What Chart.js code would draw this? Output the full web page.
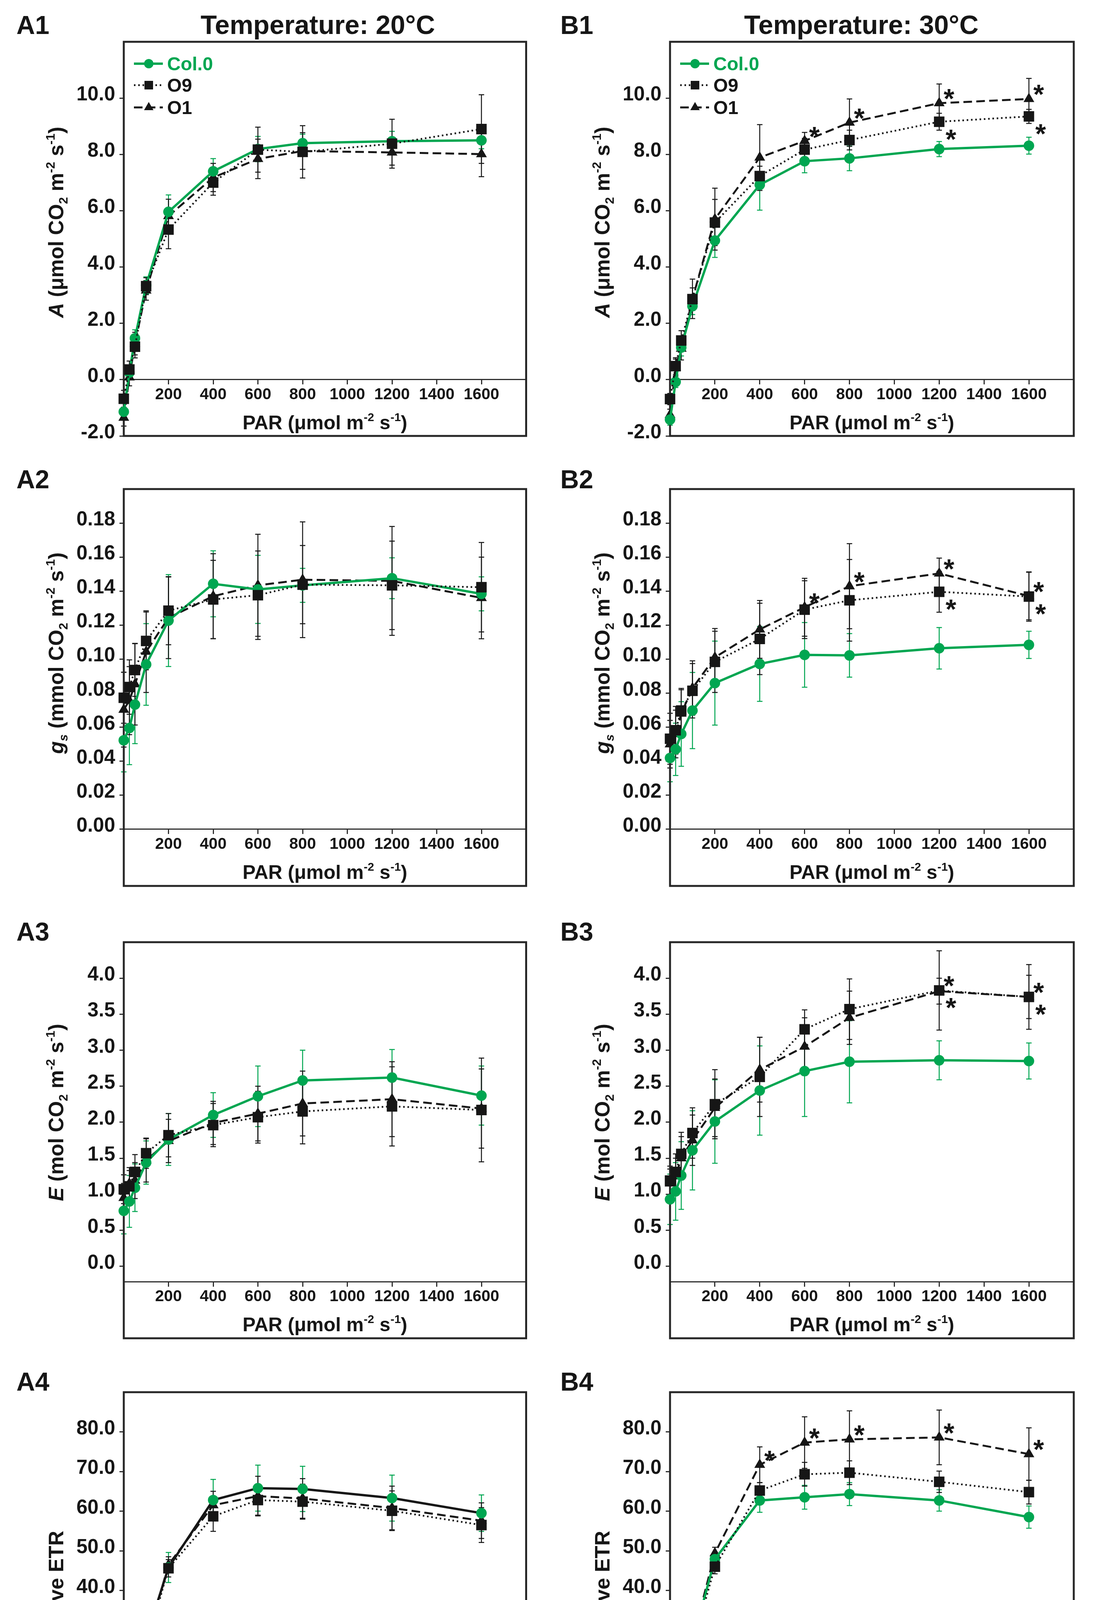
<!DOCTYPE html>
<html>
<head>
<meta charset="utf-8">
<title>Light response curves, 20 °C and 30 °C</title>
<script src="https://cdn.jsdelivr.net/npm/chart.js@4.4.1/dist/chart.umd.min.js"></script>
<style>
  html, body { margin: 0; padding: 0; background: #fff; }
  body { width: 2830px; height: 4680px; position: relative; overflow: hidden; }
  canvas { position: absolute; }
</style>
</head>
<body>
<script>
// --- data: PAR steps and tick values ---
const PAR = [0, 25, 50, 100, 200, 400, 600, 800, 1200, 1600];
const xTicks = [200, 400, 600, 800, 1000, 1200, 1400, 1600];
const seriesNames = ['Col.0', 'O9', 'O1'];

const ticksA   = [-2, 0, 2, 4, 6, 8, 10];
const ticksGs  = [0, 0.02, 0.04, 0.06, 0.08, 0.10, 0.12, 0.14, 0.16, 0.18];
const ticksE   = [0, 0.5, 1, 1.5, 2, 2.5, 3, 3.5, 4];
const ticksETR = [0, 10, 20, 30, 40, 50, 60, 70, 80];

// A (umol CO2 m-2 s-1)
const A1_col0 = [-1.14, 0.25, 1.47, 3.35, 5.96, 7.40, 8.19, 8.40, 8.47, 8.50];
const A1_col0_err = [0.3, 0.25, 0.3, 0.3, 0.6, 0.45, 0.45, 0.32, 0.35, 0.3];
const A1_o9 = [-0.68, 0.36, 1.17, 3.32, 5.33, 7.00, 8.17, 8.09, 8.38, 8.90];
const A1_o9_err = [0.3, 0.3, 0.4, 0.3, 0.68, 0.45, 0.8, 0.93, 0.87, 1.22];
const A1_o1 = [-1.35, 0.08, 1.28, 3.17, 5.81, 7.18, 7.84, 8.12, 8.07, 8.01];
const A1_o1_err = [0.3, 0.3, 0.4, 0.35, 0.6, 0.5, 0.7, 0.65, 0.45, 0.8];

const B1_col0 = [-1.42, -0.08, 1.14, 2.61, 4.94, 6.92, 7.76, 7.86, 8.19, 8.31];
const B1_col0_err = [0.2, 0.2, 0.3, 0.3, 0.6, 0.9, 0.41, 0.44, 0.27, 0.3];
const B1_o9 = [-0.69, 0.48, 1.39, 2.86, 5.58, 7.23, 8.17, 8.51, 9.16, 9.35];
const B1_o9_err = [0.2, 0.3, 0.35, 0.4, 0.82, 0.35, 0.4, 0.35, 0.3, 0.25];
const B1_o1 = [-1.25, 0.43, 1.10, 2.87, 5.70, 7.89, 8.48, 9.13, 9.82, 9.97];
const B1_o1_err = [0.2, 0.3, 0.4, 0.7, 1.1, 1.17, 0.3, 0.84, 0.68, 0.73];

// gs (mmol CO2 m-2 s-1)
const A2_col0 = [0.0523, 0.0595, 0.0733, 0.0969, 0.1227, 0.1443, 0.1410, 0.1434, 0.1476, 0.1384];
const A2_col0_err = [0.0186, 0.0215, 0.023, 0.024, 0.027, 0.0194, 0.02, 0.01, 0.012, 0.01];
const A2_o9 = [0.0773, 0.0836, 0.0936, 0.1107, 0.1285, 0.1351, 0.1376, 0.1438, 0.1434, 0.1423];
const A2_o9_err = [0.015, 0.016, 0.0155, 0.017, 0.02, 0.023, 0.026, 0.023, 0.026, 0.0263];
const A2_o1 = [0.0703, 0.0756, 0.0853, 0.1044, 0.1243, 0.137, 0.1434, 0.1467, 0.146, 0.136];
const A2_o1_err = [0.022, 0.02, 0.024, 0.024, 0.024, 0.025, 0.03, 0.034, 0.032, 0.024];

const B2_col0 = [0.0419, 0.047, 0.056, 0.0698, 0.0859, 0.0972, 0.1025, 0.1022, 0.1064, 0.1084];
const B2_col0_err = [0.014, 0.0154, 0.019, 0.0224, 0.0247, 0.022, 0.019, 0.0128, 0.0122, 0.008];
const B2_o9 = [0.0532, 0.0582, 0.0698, 0.0814, 0.0984, 0.1119, 0.1291, 0.1346, 0.1396, 0.1368];
const B2_o9_err = [0.015, 0.014, 0.013, 0.016, 0.018, 0.021, 0.017, 0.024, 0.012, 0.0145];
const B2_o1 = [0.050, 0.056, 0.068, 0.083, 0.101, 0.1175, 0.1305, 0.1429, 0.1504, 0.1371];
const B2_o1_err = [0.014, 0.014, 0.014, 0.016, 0.017, 0.017, 0.017, 0.025, 0.009, 0.014];

// E (mol CO2 m-2 s-1)
const A3_col0 = [0.77, 0.90, 1.09, 1.44, 1.76, 2.10, 2.36, 2.58, 2.62, 2.37];
const A3_col0_err = [0.32, 0.36, 0.33, 0.3, 0.36, 0.31, 0.42, 0.42, 0.39, 0.41];
const A3_o9 = [1.07, 1.11, 1.31, 1.57, 1.82, 1.96, 2.07, 2.15, 2.22, 2.17];
const A3_o9_err = [0.2, 0.22, 0.24, 0.21, 0.3, 0.3, 0.36, 0.45, 0.55, 0.72];
const A3_o1 = [0.95, 1.15, 1.19, 1.47, 1.74, 1.99, 2.12, 2.26, 2.32, 2.19];
const A3_o1_err = [0.2, 0.22, 0.25, 0.3, 0.3, 0.3, 0.38, 0.45, 0.52, 0.55];

const B3_col0 = [0.93, 1.04, 1.26, 1.61, 2.01, 2.44, 2.71, 2.84, 2.86, 2.85];
const B3_col0_err = [0.35, 0.4, 0.47, 0.55, 0.58, 0.62, 0.63, 0.57, 0.27, 0.25];
const B3_o9 = [1.19, 1.31, 1.56, 1.85, 2.25, 2.63, 3.29, 3.57, 3.83, 3.74];
const B3_o9_err = [0.2, 0.25, 0.3, 0.35, 0.48, 0.55, 0.27, 0.42, 0.55, 0.45];
const B3_o1 = [1.15, 1.25, 1.50, 1.75, 2.20, 2.73, 3.05, 3.45, 3.82, 3.74];
const B3_o1_err = [0.2, 0.25, 0.3, 0.35, 0.4, 0.45, 0.4, 0.37, 0.18, 0.3];

// relative ETR
const A4_col0 = [0.2, 7.15, 15.6, 28.1, 45.8, 62.8, 65.8, 65.6, 63.3, 59.5];
const A4_col0_err = [0.3, 0.8, 1.0, 1.2, 3.8, 5.2, 5.8, 5.7, 5.8, 4.6];
const A4_o9 = [0.0, 6.6, 14.1, 25.6, 45.6, 58.7, 62.8, 62.4, 60.1, 56.5];
const A4_o9_err = [0.2, 0.5, 1.0, 1.2, 2.2, 3.8, 3.8, 4.4, 5.0, 4.4];
const A4_o1 = [0.1, 6.8, 14.5, 26.5, 46.5, 61.5, 63.8, 63.2, 60.8, 57.6];
const A4_o1_err = [0.2, 0.5, 1.0, 1.5, 2.0, 3.5, 5.0, 5.0, 5.5, 4.5];

const B4_col0 = [0.1, 7.0, 14.8, 27.0, 47.9, 62.7, 63.5, 64.3, 62.7, 58.5];
const B4_col0_err = [0.3, 0.6, 0.8, 1.2, 1.5, 3.0, 3.0, 2.9, 2.7, 2.8];
const B4_o9 = [0.0, 6.85, 14.4, 25.8, 46.0, 65.2, 69.3, 69.7, 67.4, 64.8];
const B4_o9_err = [0.2, 0.5, 0.8, 1.0, 1.8, 2.0, 3.0, 3.0, 2.7, 3.0];
const B4_o1 = [0.2, 7.2, 14.9, 27.5, 49.4, 71.7, 77.3, 78.1, 78.6, 74.4];
const B4_o1_err = [0.2, 0.5, 0.8, 1.2, 1.5, 4.5, 6.5, 7.2, 6.9, 6.6];

// significance marks: [series, point index, side]
const B1_stars = [['O1', 6, 'up'], ['O1', 7, 'up'], ['O1', 8, 'up'], ['O9', 8, 'down'], ['O1', 9, 'up'], ['O9', 9, 'down']];
const B2_stars = [['O1', 6, 'up'], ['O1', 7, 'up'], ['O1', 8, 'up'], ['O9', 8, 'down'], ['O1', 9, 'up'], ['O9', 9, 'down']];
const B3_stars = [['O9', 8, 'up'], ['O9', 8, 'down'], ['O9', 9, 'up'], ['O9', 9, 'down']];
const B4_stars = [['O1', 5, 'up'], ['O1', 6, 'up'], ['O1', 7, 'up'], ['O1', 8, 'up'], ['O1', 9, 'up']];

// --- axis titles (rich text: italic / sub / sup) ---
const titleA   = [{t: 'A', it: 1}, {t: ' (μmol CO'}, {t: '2', sub: 1}, {t: ' m'}, {t: '-2', sup: 1}, {t: ' s'}, {t: '-1', sup: 1}, {t: ')'}];
const titleGs  = [{t: 'g', it: 1}, {t: 's', it: 1, sub: 1}, {t: ' (mmol CO'}, {t: '2', sub: 1}, {t: ' m'}, {t: '-2', sup: 1}, {t: ' s'}, {t: '-1', sup: 1}, {t: ')'}];
const titleE   = [{t: 'E', it: 1}, {t: ' (mol CO'}, {t: '2', sub: 1}, {t: ' m'}, {t: '-2', sup: 1}, {t: ' s'}, {t: '-1', sup: 1}, {t: ')'}];
const titleETR = [{t: 'relative ETR'}];
const titlePAR = [{t: 'PAR (μmol m'}, {t: '-2', sup: 1}, {t: ' s'}, {t: '-1', sup: 1}, {t: ')'}];

// --- look ---
const FONT  = '"Liberation Sans", Arial, Helvetica, sans-serif';
const GREEN = '#00a651';
const INK   = '#161616';
const FRAME = '#262626';
const PAD_BOTTOM = 50;

// page geometry (px): columns and rows of the plot frames
const COLS = [
  {left: 0,    boxLeft: 317,  boxRight: 1347.5, labelX: 42,   titleX: 814},
  {left: 1415, boxLeft: 1716, boxRight: 2750,   labelX: 1435, titleX: 2206}
];
const ROWS = [
  {top: 107,  bottom: 1116, padTop: 107, labelDy: -20, yTitleY: 569},
  {top: 1252, bottom: 2268, padTop: 130, labelDy: -2,  yTitleY: 1672},
  {top: 2412, bottom: 3426, padTop: 130, labelDy: -4,  yTitleY: 2848},
  {top: 3564, bottom: 4630, padTop: 130, labelDy: -4,  yTitleY: 4072}
];

const panels = [
  {id: 'A1', col: 0, row: 0, head: 'Temperature: 20°C', legend: true,
   y: {min: -2, max: 12, ticks: ticksA, dec: 1, axisAt: 0}, yTitle: titleA,
   series: [A1_col0, A1_o9, A1_o1], errs: [A1_col0_err, A1_o9_err, A1_o1_err], stars: []},
  {id: 'B1', col: 1, row: 0, head: 'Temperature: 30°C', legend: true,
   y: {min: -2, max: 12, ticks: ticksA, dec: 1, axisAt: 0}, yTitle: titleA,
   series: [B1_col0, B1_o9, B1_o1], errs: [B1_col0_err, B1_o9_err, B1_o1_err], stars: B1_stars},
  {id: 'A2', col: 0, row: 1,
   y: {min: -0.2 / 6, max: 0.2, ticks: ticksGs, dec: 2, axisAt: 0}, yTitle: titleGs,
   series: [A2_col0, A2_o9, A2_o1], errs: [A2_col0_err, A2_o9_err, A2_o1_err], stars: []},
  {id: 'B2', col: 1, row: 1,
   y: {min: -0.2 / 6, max: 0.2, ticks: ticksGs, dec: 2, axisAt: 0}, yTitle: titleGs,
   series: [B2_col0, B2_o9, B2_o1], errs: [B2_col0_err, B2_o9_err, B2_o1_err], stars: B2_stars},
  {id: 'A3', col: 0, row: 2,
   y: {min: -1, max: 4.5, ticks: ticksE, dec: 1, axisAt: -0.214}, yTitle: titleE,
   series: [A3_col0, A3_o9, A3_o1], errs: [A3_col0_err, A3_o9_err, A3_o1_err], stars: []},
  {id: 'B3', col: 1, row: 2,
   y: {min: -1, max: 4.5, ticks: ticksE, dec: 1, axisAt: -0.214}, yTitle: titleE,
   series: [B3_col0, B3_o9, B3_o1], errs: [B3_col0_err, B3_o9_err, B3_o1_err], stars: B3_stars},
  {id: 'A4', col: 0, row: 3, col0Line: INK,
   y: {min: -15, max: 90, ticks: ticksETR, dec: 1, axisAt: 0}, yTitle: titleETR,
   series: [A4_col0, A4_o9, A4_o1], errs: [A4_col0_err, A4_o9_err, A4_o1_err], stars: []},
  {id: 'B4', col: 1, row: 3,
   y: {min: -15, max: 90, ticks: ticksETR, dec: 1, axisAt: 0}, yTitle: titleETR,
   series: [B4_col0, B4_o9, B4_o1], errs: [B4_col0_err, B4_o9_err, B4_o1_err], stars: B4_stars}
];

// --- helpers ---
function richDraw(ctx, segs, size, cx, baseY, color) {
  const parts = segs.map(s => {
    const small = s.sub || s.sup;
    const font = (s.it ? 'italic ' : '') + 'bold ' + (small ? size * 0.6 : size) + 'px ' + FONT;
    ctx.font = font;
    return {t: s.t, font, w: ctx.measureText(s.t).width,
            dy: s.sub ? size * 0.2 : (s.sup ? -size * 0.42 : 0)};
  });
  const total = parts.reduce((a, q) => a + q.w, 0);
  let xx = cx - total / 2;
  ctx.fillStyle = color || INK;
  ctx.textAlign = 'left';
  ctx.textBaseline = 'alphabetic';
  parts.forEach(q => { ctx.font = q.font; ctx.fillText(q.t, xx, baseY + q.dy); xx += q.w; });
}

function marker(ctx, style, x, y, size) {
  ctx.beginPath();
  if (style === 'circle') {
    ctx.arc(x, y, size, 0, Math.PI * 2);
  } else if (style === 'rect') {
    ctx.rect(x - size, y - size, size * 2, size * 2);
  } else {
    ctx.moveTo(x, y - size);
    ctx.lineTo(x + size * 0.866, y + size * 0.5);
    ctx.lineTo(x - size * 0.866, y + size * 0.5);
    ctx.closePath();
  }
  ctx.fill();
}

function decor(p, col, row) {
  return {
    id: 'decor' + p.id,
    beforeDatasetsDraw(chart) {
      const {ctx, chartArea: a, scales: {x, y}} = chart;
      ctx.save();
      // error bars
      chart.data.datasets.forEach(ds => {
        ctx.strokeStyle = ds.errColor;
        ctx.lineWidth = 2.5;
        ctx.setLineDash([]);
        ds.data.forEach((pt, i) => {
          const e = ds.errors[i];
          const px = x.getPixelForValue(pt.x);
          const y1 = y.getPixelForValue(pt.y + e), y2 = y.getPixelForValue(pt.y - e);
          ctx.beginPath();
          ctx.moveTo(px, y1); ctx.lineTo(px, y2);
          ctx.moveTo(px - 7, y1); ctx.lineTo(px + 7, y1);
          ctx.moveTo(px - 7, y2); ctx.lineTo(px + 7, y2);
          ctx.stroke();
        });
      });
      // frame
      ctx.strokeStyle = FRAME;
      ctx.lineWidth = 5;
      ctx.strokeRect(a.left, a.top, a.right - a.left, a.bottom - a.top);
      ctx.restore();
    },
    afterDatasetsDraw(chart) {
      const {ctx, chartArea: a, scales: {x, y}} = chart;
      ctx.save();
      // asterisks
      ctx.fillStyle = INK;
      ctx.font = 'bold 70px ' + FONT;
      ctx.textAlign = 'center';
      ctx.textBaseline = 'alphabetic';
      p.stars.forEach(([name, i, side]) => {
        const ds = chart.data.datasets.find(d => d.label === name);
        const pt = ds.data[i];
        const px = x.getPixelForValue(pt.x) + (side === 'up' ? 25 : 30);
        const py = y.getPixelForValue(pt.y) + (side === 'up' ? -28 : 28);
        ctx.fillText('*', px, py + 0.585 * 70);
      });
      // legend
      if (p.legend) {
        const rowsY = [56, 111, 168];
        seriesNames.forEach((name, k) => {
          const ds = chart.data.datasets.find(d => d.label === name);
          const cy = a.top + rowsY[k];
          ctx.strokeStyle = ds.borderColor;
          ctx.lineWidth = ds.borderWidth;
          ctx.setLineDash(ds.borderDash);
          ctx.beginPath();
          ctx.moveTo(a.left + 26, cy); ctx.lineTo(a.left + 100, cy);
          ctx.stroke();
          ctx.setLineDash([]);
          ctx.fillStyle = ds.pointBackgroundColor;
          marker(ctx, ds.pointStyle, a.left + 64, cy, ds.pointStyle === 'circle' ? 12 : (ds.pointStyle === 'rect' ? 11 : 14));
          ctx.fillStyle = ds.legendColor;
          ctx.font = 'bold 48px ' + FONT;
          ctx.textAlign = 'left';
          ctx.textBaseline = 'alphabetic';
          ctx.fillText(name, a.left + 111, cy + 17);
        });
      }
      ctx.restore();
    },
    afterDraw(chart) {
      const {ctx, chartArea: a, scales: {y}} = chart;
      ctx.save();
      // panel label and column heading
      ctx.fillStyle = INK;
      ctx.font = 'bold 66px ' + FONT;
      ctx.textAlign = 'left';
      ctx.textBaseline = 'alphabetic';
      ctx.fillText(p.id, col.labelX - col.left, a.top + row.labelDy);
      if (p.head) {
        ctx.font = 'bold 68px ' + FONT;
        ctx.textAlign = 'center';
        ctx.fillText(p.head, col.titleX - col.left, 87);
      }
      // x axis title, under the tick labels
      const axisPix = y.getPixelForValue(p.y.axisAt);
      richDraw(ctx, titlePAR, 50, (a.left + a.right) / 2, axisPix + 127);
      // y axis title, rotated
      ctx.translate(a.left - 155, row.yTitleY - (row.top - row.padTop));
      ctx.rotate(-Math.PI / 2);
      richDraw(ctx, p.yTitle, 53, 0, 0);
      ctx.restore();
    }
  };
}

function buildPanel(p) {
  const col = COLS[p.col], row = ROWS[p.row];
  const W = 1415;
  const H = row.padTop + (row.bottom - row.top) + PAD_BOTTOM;
  const cv = document.createElement('canvas');
  cv.width = W; cv.height = H;
  cv.style.left = col.left + 'px';
  cv.style.top = (row.top - row.padTop) + 'px';
  document.body.appendChild(cv);

  const yAxisW = col.boxLeft - col.left;
  const padRight = col.left + W - col.boxRight;
  const look = [
    {line: p.col0Line || GREEN, dash: [], width: 6, point: 'circle', r: 13.5, fill: GREEN, err: GREEN, text: GREEN, order: 1},
    {line: INK, dash: [4, 7], width: 4.5, point: 'rect', r: 19, fill: INK, err: INK, text: INK, order: 0},
    {line: INK, dash: [22, 11], width: 5, point: 'triangle', r: 16, fill: INK, err: INK, text: INK, order: 2}
  ];
  const datasets = p.series.map((vals, k) => ({
    label: seriesNames[k],
    data: PAR.map((x, i) => ({x, y: vals[i]})),
    errors: p.errs[k],
    errColor: look[k].err,
    legendColor: look[k].text,
    borderColor: look[k].line,
    borderWidth: look[k].width,
    borderDash: look[k].dash,
    pointStyle: look[k].point,
    pointRadius: look[k].r,
    pointHoverRadius: look[k].r,
    pointBackgroundColor: look[k].fill,
    pointBorderColor: look[k].fill,
    pointBorderWidth: 0,
    tension: 0,
    fill: false,
    clip: false,
    order: look[k].order
  }));

  const tickGrid = {drawOnChartArea: false, drawTicks: true, tickLength: 11, lineWidth: 3, color: '#2e2e2e'};

  new Chart(cv, {
    type: 'line',
    data: {datasets},
    options: {
      responsive: false,
      animation: false,
      devicePixelRatio: 1,
      events: [],
      layout: {padding: {left: 0, top: row.padTop, right: padRight, bottom: PAD_BOTTOM}},
      plugins: {legend: {display: false}, tooltip: {enabled: false}, title: {display: false}},
      scales: {
        x: {
          type: 'linear', min: 0, max: 1800,
          position: {y: p.y.axisAt},
          afterBuildTicks: ax => { ax.ticks = xTicks.map(v => ({value: v})); },
          ticks: {autoSkip: false, maxRotation: 0, padding: 7, color: INK,
                  font: {family: FONT, size: 41, weight: 'bold', lineHeight: 1},
                  callback: v => String(v)},
          grid: tickGrid,
          border: {display: true, width: 3, color: '#2e2e2e'},
          title: {display: false}
        },
        y: {
          type: 'linear', position: 'left', min: p.y.min, max: p.y.max,
          afterBuildTicks: ax => { ax.ticks = p.y.ticks.map(v => ({value: v})); },
          afterFit: ax => { ax.width = yAxisW; },
          ticks: {autoSkip: false, padding: 11, labelOffset: -8, color: INK,
                  font: {family: FONT, size: 51, weight: 'bold'},
                  callback: v => v.toFixed(p.y.dec)},
          grid: tickGrid,
          border: {display: false},
          title: {display: false}
        }
      }
    },
    plugins: [decor(p, col, row)]
  });
}

panels.forEach(buildPanel);
</script>
</body>
</html>
